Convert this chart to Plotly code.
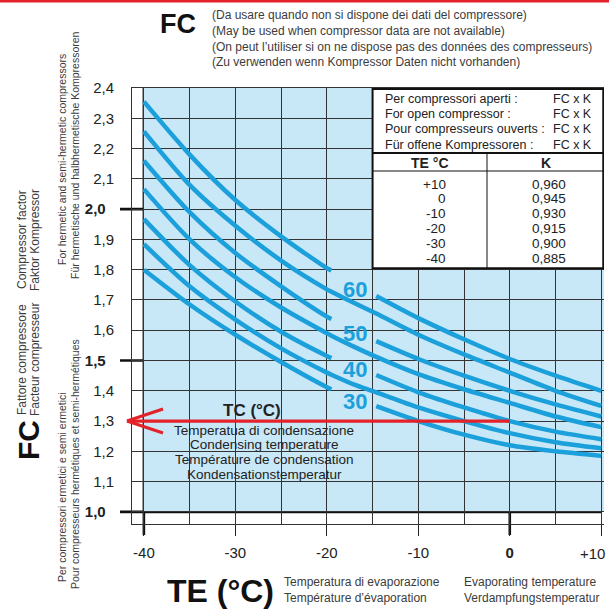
import plotly.graph_objects as go

# ---- data ----
TE = [-40, -35, -30, -25, -20, -19.5, -17, -14.6, -10, -5, 0, 5, 10]

# None = gap left for the curve label
fc_tc60 = [2.355, 2.18, 2.03, 1.91, 1.805, 1.797, None, 1.713, 1.64, 1.57, 1.505, 1.45, 1.40]
fc_tc55 = [2.257, 2.08, 1.945, 1.83, 1.735, 1.727, 1.69, 1.655, 1.585, 1.52, 1.46, 1.40, 1.35]
fc_tc50 = [2.16, 1.99, 1.855, 1.745, 1.645, 1.637, None, 1.564, 1.505, 1.45, 1.40, 1.355, 1.315]
fc_tc45 = [2.066, 1.90, 1.775, 1.675, 1.59, 1.582, 1.545, 1.512, 1.455, 1.405, 1.36, 1.315, 1.28]
fc_tc40 = [1.967, 1.815, 1.695, 1.595, 1.515, 1.508, None, 1.452, 1.395, 1.345, 1.30, 1.265, 1.24]
fc_tc35 = [1.884, 1.745, 1.635, 1.54, 1.46, 1.453, 1.42, 1.395, 1.345, 1.30, 1.26, 1.23, 1.21]
fc_tc30 = [1.80, 1.685, 1.585, 1.495, 1.412, 1.405, None, 1.349, 1.30, 1.255, 1.22, 1.20, 1.185]

curves = [fc_tc60, fc_tc55, fc_tc50, fc_tc45, fc_tc40, fc_tc35, fc_tc30]
labelled_tc = ["60", "50", "40", "30"]
label_fc = [1.735, 1.589, 1.470, 1.364]

# example reading (red arrow)
TE_READ = 0
FC_READ = 1.3

fc_ticks = [1.0, 1.1, 1.2, 1.3, 1.4, 1.5, 1.6, 1.7, 1.8, 1.9, 2.0, 2.1, 2.2, 2.3, 2.4]
te_ticks = [-40, -30, -20, -10, 0, 10]
te_ticktext = ["-40", "-30", "-20", "-10", "<b>0</b>", ""]  # "+10" is placed as annotation
te_last_label = "+10"

open_lines = ["Per compressori aperti :", "For open compressor :",
              "Pour compresseurs ouverts :", "Für offene Kompressoren :"]
table_te = ["+10", "0", "-10", "-20", "-30", "-40"]
table_k = ["0,960", "0,945", "0,930", "0,915", "0,900", "0,885"]

header_lines = ["(Da usare quando non si dispone dei dati del compressore)",
                "(May be used when compressor data are not available)",
                "(On peut l\u2019utiliser si on ne dispose pas des données des compresseurs)",
                "(Zu verwenden wenn Kompressor Daten nicht vorhanden)"]
tc_lines = ["Temperatua di condensazione", "Condensing temperature",
            "Température de condensation", "Kondensationstemperatur"]

# ---- styling / geometry ----
SANS = "Liberation Sans, Arial, sans-serif"
BLUE_BG = "#c8e7f7"
CURVE = "#1ba0db"
RED = "#e4222a"
DARK = "#222222"
GREY = "#3c3c3c"

XMIN, XMAX = -41.3, 10.3
YMIN, YMAX = 0.96, 2.4
L, T, WID, HEI = 132, 88, 472, 436
B = T + HEI


def px_x(px):
    return (px - L) / WID


def px_y(py):
    return (B - py) / HEI


def dx(px):
    return XMIN + (px - L) / WID * (XMAX - XMIN)


def dy(py):
    return YMIN + (B - py) / HEI * (YMAX - YMIN)


def paper_of_x(v):
    return (v - XMIN) / (XMAX - XMIN)


fig = go.Figure()

for vals in curves:
    fig.add_trace(go.Scatter(
        x=TE, y=vals, mode="lines",
        line=dict(color=CURVE, width=4.5, shape="spline", smoothing=0.8),
        connectgaps=False, hoverinfo="skip"
    ))

shapes = []
# light blue field
shapes.append(dict(type="rect", xref="x", yref="y", x0=-40, x1=XMAX, y0=1.0, y1=2.4,
                   fillcolor=BLUE_BG, line=dict(width=0), layer="below"))
# heavy horizontal lines
for v in [1.0, 1.5, 2.0]:
    shapes.append(dict(type="line", xref="paper", yref="y", x0=px_x(120), x1=paper_of_x(10),
                       y0=v, y1=v, line=dict(color="#111", width=2.6), layer="between"))
# heavy vertical lines
for v in [-40, 0]:
    shapes.append(dict(type="line", xref="x", yref="paper", x0=v, x1=v, y0=px_y(535), y1=1,
                       line=dict(color="#111", width=2.6), layer="between"))
# table
shapes.append(dict(type="rect", xref="x", yref="y", x0=-15, x1=10.22, y0=1.805, y1=2.397,
                   fillcolor="white", line=dict(color="#111", width=2), layer="above"))
shapes.append(dict(type="line", xref="x", yref="y", x0=-15, x1=10.22, y0=dy(153), y1=dy(153),
                   line=dict(color="#111", width=2), layer="above"))
shapes.append(dict(type="line", xref="x", yref="y", x0=-15, x1=10.22, y0=dy(171), y1=dy(171),
                   line=dict(color="#111", width=1), layer="above"))
shapes.append(dict(type="line", xref="x", yref="y", x0=dx(487), x1=dx(487), y0=1.805, y1=dy(153),
                   line=dict(color="#111", width=1), layer="above"))
# red reading arrow
shapes.append(dict(type="line", xref="paper", yref="y", x0=paper_of_x(TE_READ), x1=px_x(128),
                   y0=FC_READ, y1=FC_READ, line=dict(color=RED, width=3.2), layer="above"))
for py in [409, 433]:
    shapes.append(dict(type="line", xref="paper", yref="y", x0=px_x(127), x1=px_x(163),
                       y0=FC_READ, y1=dy(py), line=dict(color=RED, width=3.2), layer="above"))
# red strip at top
shapes.append(dict(type="rect", xref="paper", yref="paper", x0=px_x(0), x1=px_x(609),
                   y0=px_y(2.5), y1=px_y(0), fillcolor=RED, line=dict(width=0)))

ann = []


def text(px, py, s, size, color=DARK, xanchor="left", yanchor="middle", angle=0):
    ann.append(dict(xref="paper", yref="paper", x=px_x(px), y=px_y(py), text=s, showarrow=False,
                    font=dict(family=SANS, size=size, color=color),
                    xanchor=xanchor, yanchor=yanchor, textangle=angle))


# header
text(178, 24, "<b>FC</b>", 27, "#111", "center")
for i, s in enumerate(header_lines):
    text(210, 15 + i * 15.8, s, 12, GREY)

# table text
for i, s in enumerate(open_lines):
    text(383, 99 + i * 15.2, s, 12.5, DARK)
    text(594, 99 + i * 15.2, "FC x K", 12.5, DARK, "right")
text(430, 163, "<b>TE °C</b>", 14, DARK, "center")
text(546, 163, "<b>K</b>", 14, DARK, "center")
for i, (te, k) in enumerate(zip(table_te, table_k)):
    text(448, 184 + i * 14.8, te, 13.5, DARK, "right")
    text(549, 184 + i * 14.8, k, 13.5, DARK, "center")

# curve labels
for s, v in zip(labelled_tc, label_fc):
    ann.append(dict(xref="x", yref="y", x=-16.9, y=v, text="<b>" + s + "</b>", showarrow=False,
                    font=dict(family=SANS, size=22, color=CURVE), xanchor="center", yanchor="middle"))

# last x tick label, kept inside the page edge
text(607, 553, te_last_label, 15, DARK, "right")

# condensing temperature legend
text(252, 410, "<b>TC (°C)</b>", 17, DARK, "center")
for i, s in enumerate(tc_lines):
    text(264, 430 + i * 14.8, s, 13.5, DARK, "center")

# bottom titles
text(220, 591, "<b>TE (°C)</b>", 32, "#111", "center")
text(282, 582, "Temperatura di evaporazione", 12, GREY)
text(282, 598, "Température d\u2019évaporation", 12, GREY)
text(462, 582, "Evaporating temperature", 12, GREY)
text(462, 598, "Verdampfungstemperatur", 12, GREY)

# left vertical titles
text(22, 240, "Compressor factor", 12, GREY, "center", "middle", -90)
text(35, 240, "Faktor Kompressor", 12, GREY, "center", "middle", -90)
text(22, 360, "Fattore compressore", 12, GREY, "center", "middle", -90)
text(35, 360, "Facteur compresseur", 12, GREY, "center", "middle", -90)
text(28, 440, "<b>FC</b>", 30, "#111", "center", "middle", -90)
text(62, 160, "For hermetic and semi-hermetic compressors", 10.5, GREY, "center", "middle", -90)
text(75, 155, "Für hermetische und halbhermetische Kompressoren", 10.5, GREY, "center", "middle", -90)
text(62, 487, "Per compressori ermetici e semi ermetici", 10.5, GREY, "center", "middle", -90)
text(75, 464, "Pour compresseurs hermétiques et semi-hermétiques", 10.5, GREY, "center", "middle", -90)

fc_ticktext = []
for v in fc_ticks:
    s = f"{v:.1f}".replace(".", ",")
    if round(v * 10) % 5 == 0:
        s = "<b>" + s + "</b>\u00a0\u00a0"
    fc_ticktext.append(s)

fig.update_layout(
    width=609, height=613,
    margin=dict(l=L, r=609 - L - WID, t=T, b=613 - B),
    plot_bgcolor="white", paper_bgcolor="white",
    showlegend=False,
    shapes=shapes, annotations=ann,
    xaxis=dict(
        range=[XMIN, XMAX], tickmode="array", tickvals=te_ticks, ticktext=te_ticktext,
        ticks="outside", ticklen=11, tickwidth=1, tickcolor="#222",
        tickfont=dict(family=SANS, size=15, color=DARK), ticklabelstandoff=4,
        showgrid=True, gridcolor="#333", gridwidth=1, zeroline=False, automargin=False,
        minor=dict(tickvals=[-35, -25, -15, -5, 5], showgrid=True, gridcolor="#333", gridwidth=1, ticks=""),
        showline=True, linecolor="#333", linewidth=1, mirror=True,
    ),
    yaxis=dict(
        range=[YMIN, YMAX], tickmode="array", tickvals=fc_ticks, ticktext=fc_ticktext,
        ticks="", tickfont=dict(family=SANS, size=15, color=DARK), ticklabelstandoff=14,
        showgrid=True, gridcolor="#333", gridwidth=1, zeroline=False, automargin=False,
        showline=True, linecolor="#333", linewidth=1,
    ),
)

# page body has a default 8px margin; remove it so the figure sits at the window origin
fig.write_html("out.html", config={"displayModeBar": False},
               post_script="document.body.style.margin='0';")
